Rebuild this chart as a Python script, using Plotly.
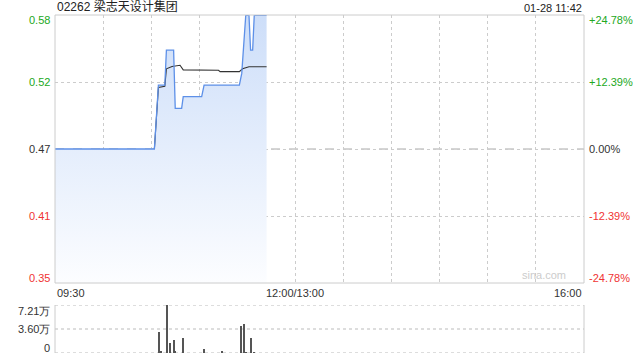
import plotly.graph_objects as go

# ---------------- data ----------------
prev_close = 0.465
max_pct = 0.2478

# minutes since 09:30 (trading minutes, lunch removed)
price_t = [0, 62, 64.5, 68.5, 69.5, 74, 75, 79, 80, 91.5, 93, 115, 116.5, 119, 121, 122, 123.3, 124.3, 132]
price_v = [0.465, 0.465, 0.52, 0.52, 0.55, 0.55, 0.50, 0.50, 0.51, 0.51, 0.52, 0.52, 0.53, 0.58, 0.58, 0.55, 0.55, 0.58, 0.58]

avg_t = [62, 64.5, 68.5, 69.5, 73, 78, 80, 102, 103, 115, 117, 121, 132]
avg_v = [0.465, 0.518, 0.519, 0.534, 0.536, 0.537, 0.533, 0.5327, 0.5315, 0.5315, 0.534, 0.5357, 0.5357]

vol_t = [65, 66, 70, 71.5, 74.4, 75, 80, 93, 104.4, 116.2, 118.1, 119.3, 122.3, 124.1]
vol_v = [32000, 3000, 72100, 15500, 19500, 2000, 23000, 6000, 3500, 41000, 44000, 1500, 23000, 1500]

price_labels = ["0.58", "0.52", "0.47", "0.41", "0.35"]
pct_labels = ["+24.78%", "+12.39%", "0.00%", "-12.39%", "-24.78%"]
vol_labels = ["7.21万", "3.60万", "0"]
vol_max = 72100
x_labels = ["09:30", "12:00/13:00", "16:00"]
x_label_pos = [0, 150, 330]
title_text = "02262 梁志天设计集团"
time_text = "01-28 11:42"

# ---------------- figure ----------------
lo = prev_close * (1 - max_pct)
hi = prev_close * (1 + max_pct)
levels = [hi, prev_close * (1 + max_pct / 2), prev_close, prev_close * (1 - max_pct / 2), lo]
colors = ["#22a822", "#22a822", "#333333", "#f03333", "#f03333"]

FONT = "Liberation Sans, Arial, sans-serif"
fig = go.Figure()

fig.add_trace(go.Scatter(
    x=price_t, y=price_v, mode="none",
    fill="tozeroy",
    fillgradient=dict(type="vertical",
                      colorscale=[[0, "rgba(252,253,255,1)"], [1, "rgba(205,222,249,1)"]],
                      start=lo, stop=hi),
    xaxis="x", yaxis="y", hoverinfo="skip", showlegend=False))

fig.add_trace(go.Scatter(
    x=avg_t, y=avg_v, mode="lines",
    line=dict(color="#333333", width=1.1),
    xaxis="x", yaxis="y", hoverinfo="skip", showlegend=False))

fig.add_trace(go.Scatter(
    x=price_t, y=price_v, mode="lines",
    line=dict(color="#5d90e8", width=1.3),
    xaxis="x", yaxis="y", hoverinfo="skip", showlegend=False))

fig.add_trace(go.Bar(
    x=vol_t, y=vol_v, width=0.7, marker=dict(color="#555555", line=dict(width=0)),
    xaxis="x2", yaxis="y3", hoverinfo="skip", showlegend=False))

grid = "#cccccc"
fig.update_layout(
    width=640, height=360,
    margin=dict(l=55, r=56, t=15, b=7),
    paper_bgcolor="white", plot_bgcolor="white",
    font=dict(family=FONT, size=11, color="#333"),
    bargap=0,
    xaxis=dict(domain=[0, 1], range=[0, 330], tickvals=list(range(0, 331, 30)),
               showticklabels=False, showgrid=True, gridcolor=grid, griddash="dot",
               gridwidth=1, zeroline=False, anchor="y", ticks=""),
    yaxis=dict(domain=[1 - 268 / 338, 1], range=[lo, hi], tickvals=levels,
               showticklabels=False, showgrid=True, gridcolor=grid, griddash="dot",
               zeroline=False, ticks=""),
    xaxis2=dict(domain=[0, 1], range=[0, 330], showticklabels=False, showgrid=False,
                zeroline=False, anchor="y3", ticks=""),
    yaxis3=dict(domain=[0, 48 / 338], range=[0, vol_max], showticklabels=False,
                showgrid=False, zeroline=False, ticks=""),
)

shapes = [
    dict(type="rect", xref="x domain", yref="y domain", x0=0, x1=1, y0=0, y1=1,
         line=dict(color="#cccccc", width=1), layer="above"),
    dict(type="line", xref="x domain", yref="y", x0=0, x1=1, y0=prev_close, y1=prev_close,
         line=dict(color="#aaaaaa", width=1, dash="dash"), layer="below"),
    dict(type="line", xref="x2 domain", yref="y3 domain", x0=0, x1=0, y0=0, y1=1,
         line=dict(color="#cccccc", width=1)),
    dict(type="line", xref="x2 domain", yref="y3 domain", x0=1, x1=1, y0=0, y1=1,
         line=dict(color="#cccccc", width=1)),
]
for v in [0, vol_max / 2, vol_max]:
    shapes.append(dict(type="line", xref="x2 domain", yref="y3", x0=0, x1=1, y0=v, y1=v,
                       line=dict(color="#bbbbbb", width=1, dash="dot"), layer="below"))
fig.update_layout(shapes=shapes)

ann = []
shifts = [-5, 0, 0, 0, 5]
for lv, pl, pc, c, s in zip(levels, price_labels, pct_labels, colors, shifts):
    ann.append(dict(xref="paper", yref="y", x=0, y=lv, text=pl, showarrow=False,
                    xanchor="right", yanchor="middle", xshift=-3, yshift=s,
                    font=dict(color=c, size=11, family=FONT)))
    ann.append(dict(xref="paper", yref="y", x=1, y=lv, text=pc, showarrow=False,
                    xanchor="left", yanchor="middle", xshift=3, yshift=s,
                    font=dict(color=c, size=11, family=FONT)))

vshifts = [-6, 0, 5]
for v, t, s in zip([vol_max, vol_max / 2, 0], vol_labels, vshifts):
    ann.append(dict(xref="paper", yref="y3", x=0, y=v, text=t, showarrow=False,
                    xanchor="right", yanchor="middle", xshift=-3, yshift=s,
                    font=dict(color="#333", size=11, family=FONT)))

anchors = ["left", "center", "right"]
for xp, t, a in zip(x_label_pos, x_labels, anchors):
    ann.append(dict(xref="x", yref="paper", x=xp, y=(360 - 7 - 293) / 338, text=t,
                    showarrow=False, xanchor=a, yanchor="middle",
                    font=dict(color="#333", size=11, family=FONT)))

ann.append(dict(xref="paper", yref="paper", x=0, y=1, text=title_text, showarrow=False,
                xanchor="left", yanchor="bottom", yshift=-1,
                font=dict(color="#222", size=12, family="Liberation Sans, Noto Sans CJK SC")))
ann.append(dict(xref="paper", yref="paper", x=1, y=1, text=time_text, showarrow=False,
                xanchor="right", yanchor="bottom", yshift=-1,
                font=dict(color="#222", size=11, family=FONT)))
ann.append(dict(xref="x", yref="y", x=305, y=lo, text="sina.com", showarrow=False,
                xanchor="center", yanchor="bottom", yshift=0,
                font=dict(color="#cccccc", size=11, family=FONT)))
fig.update_layout(annotations=ann)

fig.write_html("out.html")
